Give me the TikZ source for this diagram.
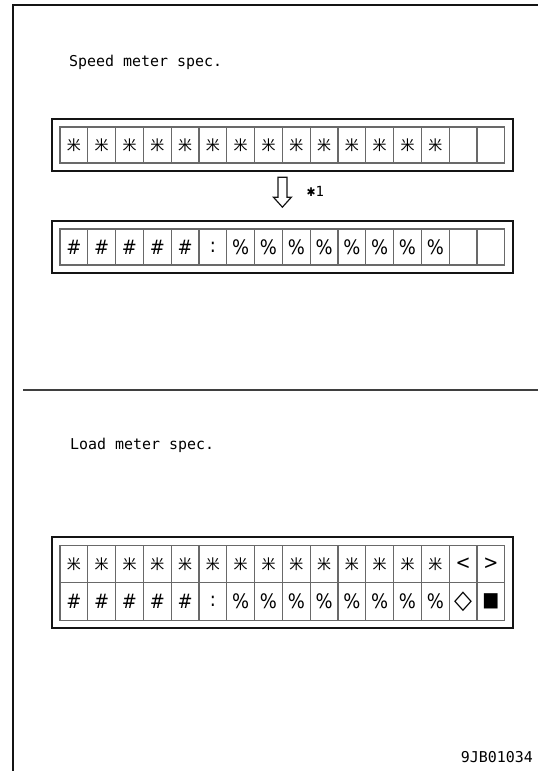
\documentclass[tikz,border=0pt]{standalone}
\usepackage{fontspec}
\usepackage{tikz}
\usetikzlibrary{positioning,fit}
\newfontfamily\lcdfont{DejaVu Sans Mono}
\newfontfamily\symfont{DejaVu Sans Condensed}
\newfontfamily\cjkfont{Noto Sans CJK JP}
\definecolor{frameink}{RGB}{20,20,20}
\definecolor{gridink}{RGB}{105,105,105}
\newcommand{\kome}{{\cjkfont\fontsize{14}{14}\selectfont 米}}

\begin{document}
\begin{tikzpicture}[x=1bp,y=-1bp,
   cell/.style={draw=gridink,line width=1.1bp,minimum width=27.8bp,minimum height=36bp,
               inner sep=0pt,font=\symfont\fontsize{20}{20}\selectfont},
   panel/.style={draw=frameink,line width=2.2bp,inner sep=7.5bp},
   title/.style={font=\lcdfont\fontsize{15}{15}\selectfont,anchor=base west,inner sep=0pt},
   hollow/.style={draw=frameink,line width=1.2bp,line join=miter}]
  \useasboundingbox (0,0) rectangle (538,771);
  \draw[frameink,line width=2.8bp] (13,771) -- (13,5) -- (538,5);
  \draw[gridink!60!black,line width=2bp] (23,390) -- (538,390);
  % speed meter
  \node[title] (spdt) at (69,67) {Speed meter spec.};
  \foreach \i in {0,...,13}
    \node[cell] (sa-\i) at ({73.9+27.8*\i},145) {\kome};
  \foreach \i in {14,15}
    \node[cell] (sa-\i) at ({73.9+27.8*\i},145) {};
  \node[panel,fit=(sa-0)(sa-15)] (spd) {};
  \foreach \i in {0,...,4}
    \node[cell] (sb-\i) at ({73.9+27.8*\i},247) {\#};
  \node[cell] (sb-5) at ({73.9+27.8*5},247) {:};
  \foreach \i in {6,...,13}
    \node[cell] (sb-\i) at ({73.9+27.8*\i},247) {\%};
  \foreach \i in {14,15}
    \node[cell] (sb-\i) at ({73.9+27.8*\i},247) {};
  \node[panel,fit=(sb-0)(sb-15)] (spd2) {};
  \path (spd.south) ++(0,5) coordinate (conv);
  \draw[hollow] (conv) ++(-4.5,0) -- ++(0,20) -- ++(-4.5,0) -- ++(9,10) -- ++(9,-10)
        -- ++(-4.5,0) -- ++(0,-20) -- cycle;
  \node[font=\lcdfont\fontsize{14}{14}\selectfont,anchor=west,inner sep=0pt,right=24bp of conv,yshift=-14bp] (note) {{\symfont\fontsize{12}{12}\selectfont ✱}1};
  % load meter
  \node[title] (ldt) at (70,449) {Load meter spec.};
  \foreach \i in {0,...,13}
    \node[cell,minimum height=37.5bp] (la-\i) at ({73.9+27.8*\i},564) {\kome};
  \node[cell,minimum height=37.5bp] (la-14) at ({73.9+27.8*14},564) {<};
  \node[cell,minimum height=37.5bp] (la-15) at ({73.9+27.8*15},564) {>};
  \foreach \i in {0,...,4}
    \node[cell,minimum height=37.5bp] (lb-\i) at ({73.9+27.8*\i},601.5) {\#};
  \node[cell,minimum height=37.5bp] (lb-5) at ({73.9+27.8*5},601.5) {:};
  \foreach \i in {6,...,13}
    \node[cell,minimum height=37.5bp] (lb-\i) at ({73.9+27.8*\i},601.5) {\%};
  \node[cell,minimum height=37.5bp,font=\symfont\fontsize{26}{26}\selectfont] (lb-14) at ({73.9+27.8*14},601.5) {◇};
  \node[cell,minimum height=37.5bp] (lb-15) at ({73.9+27.8*15},601.5) {■};
  \node[panel,fit=(la-0)(lb-15)] (ld) {};
  \node[font=\lcdfont\fontsize{15}{15}\selectfont,anchor=base east,inner sep=0pt] (code) at (533,762) {9JB01034};
\end{tikzpicture}
\end{document}
